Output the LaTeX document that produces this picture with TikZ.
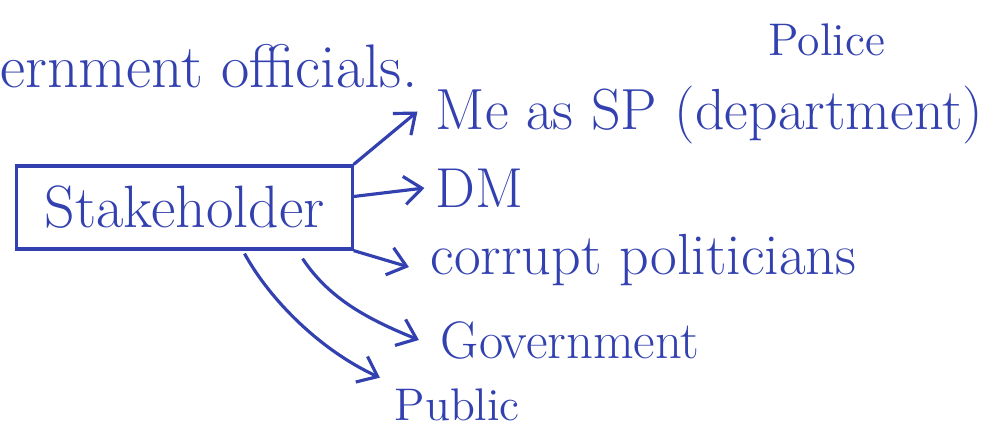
\documentclass[tikz,border=0pt]{standalone}
\usetikzlibrary{arrows.meta}
\definecolor{ink}{RGB}{50,65,175}
\begin{document}
\begin{tikzpicture}[x=0.01cm,y=-0.01cm,
  ink/.style={draw=ink,line width=0.9pt},
  lbl/.style={text=ink,inner sep=0pt,anchor=west,font=\fontsize{16}{19}\selectfont},
  arr/.style={ink,-{Straight Barb[length=5pt,width=8pt]}},
  boxst/.style={ink,rectangle,minimum width=3.35cm,minimum height=0.83cm,inner sep=0pt,
    text=ink,font=\fontsize{17}{20}\selectfont}]
\useasboundingbox (0,0) rectangle (994,436);
\node[lbl,font=\fontsize{17.5}{21}\selectfont] (gov) at (0,66) {ernment officials.};
\node[lbl,font=\fontsize{13}{16}\selectfont] (police) at (768,40) {Police};
\node[lbl,font=\fontsize{16.5}{19}\selectfont] (me) at (435,115) {Me as SP (department)};
\node[lbl] (dm) at (435,188) {DM};
\node[lbl,font=\fontsize{16.5}{19}\selectfont] (cp) at (430,260) {corrupt politicians};
\node[lbl,font=\fontsize{15}{18}\selectfont] (gv) at (440,340) {Government};
\node[lbl,font=\fontsize{13}{16}\selectfont] (pu) at (394,405) {Public};
\node[boxst] (sh) at (184.5,207.5) {Stakeholder};
\draw[arr] (sh.north east) -- ([xshift=-5pt,yshift=1pt]me.west);
\draw[arr] ([yshift=0.11cm]sh.east) -- ([xshift=-3pt]dm.west);
\draw[arr] (sh.south east) -- ([xshift=-6pt,yshift=-2pt]cp.west);
\draw[arr] ([xshift=1.18cm,yshift=-0.08cm]sh.south) .. controls (330,300) and (370,320) .. ([xshift=-6pt]gv.west);
\draw[arr] ([xshift=0.6cm,yshift=-0.03cm]sh.south) .. controls (270,300) and (320,350) .. ([xshift=-4pt,yshift=3pt]pu.north west);
\end{tikzpicture}
\end{document}
